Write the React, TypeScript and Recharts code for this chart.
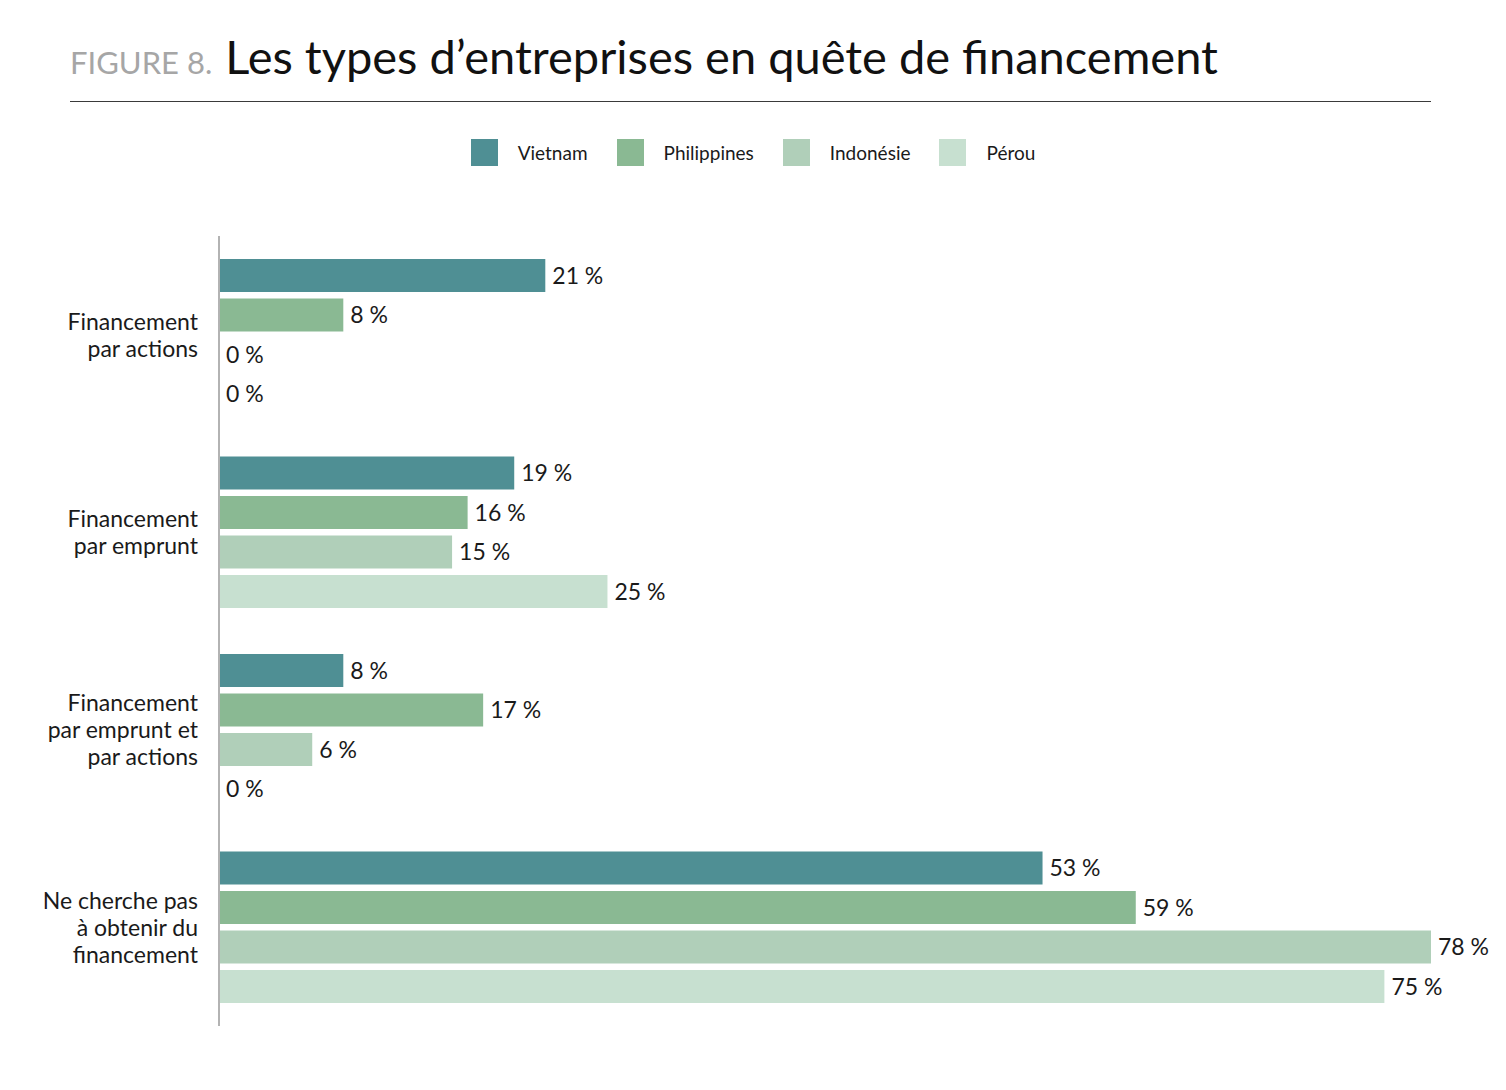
import { Bar, BarChart, LabelList, XAxis, YAxis } from "recharts";

const categories = [
  "Financement\npar actions",
  "Financement\npar emprunt",
  "Financement\npar emprunt et\npar actions",
  "Ne cherche pas\nà obtenir du\nfinancement",
];

const vietnam = [21, 19, 8, 53];
const philippines = [8, 16, 17, 59];
const indonesie = [0, 15, 6, 78];
const perou = [0, 25, 0, 75];

const series = [
  { key: "vietnam", name: "Vietnam", color: "#4f8f94" },
  { key: "philippines", name: "Philippines", color: "#8ab993" },
  { key: "indonesie", name: "Indonésie", color: "#b0cfb9" },
  { key: "perou", name: "Pérou", color: "#c7e0d0" },
];

const data = categories.map((category, i) => ({
  category,
  vietnam: vietnam[i],
  philippines: philippines[i],
  indonesie: indonesie[i],
  perou: perou[i],
}));

const FONT = "Lato, 'Noto Sans', sans-serif";

function CategoryTick(props: any) {
  const { x, y, payload } = props;
  const lines = String(payload.value).split("\n");
  const lh = 27;
  const start = y - ((lines.length - 1) * lh) / 2;
  return (
    <text x={x} y={start} textAnchor="end" fontSize={23} fill="#1a1a1a" fontFamily={FONT}>
      {lines.map((line, i) => (
        <tspan key={i} x={x} y={start + i * lh} dy="0.36em">
          {line}
        </tspan>
      ))}
    </text>
  );
}

function ChartLegend() {
  return (
    <div
      style={{
        position: "absolute",
        top: 139,
        left: 0,
        width: 1506,
        display: "flex",
        justifyContent: "center",
        fontSize: 19,
        color: "#1a1a1a",
      }}
    >
      {series.map((s, i) => (
        <div key={s.key} style={{ display: "flex", alignItems: "center", marginRight: i < series.length - 1 ? 29 : 0 }}>
          <span style={{ width: 27, height: 27, background: s.color, display: "inline-block", marginRight: 20 }} />
          <span>{s.name}</span>
        </div>
      ))}
    </div>
  );
}

export default function App() {
  return (
    <div style={{ position: "absolute", left: 0, top: 0, width: 1506, height: 1090, background: "#fff", fontFamily: FONT }}>
      <div style={{ position: "absolute", left: 70, top: 28, whiteSpace: "nowrap", lineHeight: "56px" }}>
        <span style={{ fontSize: 31, color: "#a6a6a6", marginRight: 13 }}>FIGURE 8.</span>
        <span style={{ fontSize: 47, color: "#111" }}>Les types d’entreprises en quête de financement</span>
      </div>
      <div style={{ position: "absolute", left: 70, top: 101, width: 1361, height: 0, borderTop: "1.5px solid #3a3a3a" }} />
      <ChartLegend />
      <BarChart
        width={1506}
        height={1090}
        data={data}
        layout="vertical"
        margin={{ top: 236, right: 75, bottom: 64, left: 0 }}
        barSize={33}
        barGap={6.5}
        barCategoryGap={23}
      >
        <XAxis type="number" domain={[0, 78]} hide />
        <YAxis
          type="category"
          dataKey="category"
          width={219}
          axisLine={{ stroke: "#b3b3b3", strokeWidth: 2 }}
          tickLine={false}
          tickMargin={15}
          tick={<CategoryTick />}
          interval={0}
        />
        {series.map((s) => (
          <Bar
            key={s.key}
            dataKey={s.key}
            name={s.name}
            fill={s.color}
            minPointSize={0.1}
            isAnimationActive={false}
          >
            <LabelList
              dataKey={s.key}
              position="right"
              offset={7}
              formatter={(v: any) => `${v} %`}
              style={{ fontSize: 23, fill: "#1a1a1a", fontFamily: FONT }}
            />
          </Bar>
        ))}
      </BarChart>
    </div>
  );
}
